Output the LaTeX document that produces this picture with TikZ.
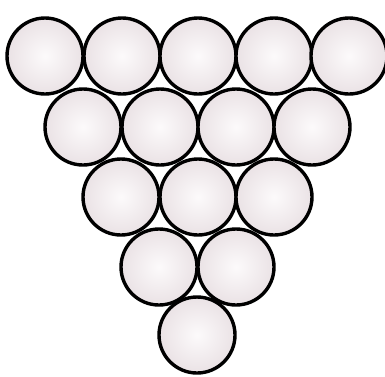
\documentclass[tikz,border=0pt]{standalone}
\definecolor{ballout}{RGB}{234,226,229}
\definecolor{ballin}{RGB}{252,250,251}
\tikzset{ball/.style={circle,draw=black,line width=3.4pt,minimum size=76pt,inner sep=0pt,inner color=ballin,outer color=ballout}}
\begin{document}
\begin{tikzpicture}[x=1pt,y=-1pt]
\useasboundingbox (0,0) rectangle (385,376);
\foreach \i/\x in {1/45,2/122,3/198,4/274,5/349}{\node[ball] (a\i) at (\x,56) {};}
\foreach \i/\x in {1/83,2/160,3/236,4/312}{\node[ball] (b\i) at (\x,127) {};}
\foreach \i/\x in {1/121,2/198,3/274}{\node[ball] (c\i) at (\x,197) {};}
\foreach \i/\x in {1/159,2/236}{\node[ball] (d\i) at (\x,267) {};}
\node[ball] (e1) at (197,335) {};
\end{tikzpicture}
\end{document}
